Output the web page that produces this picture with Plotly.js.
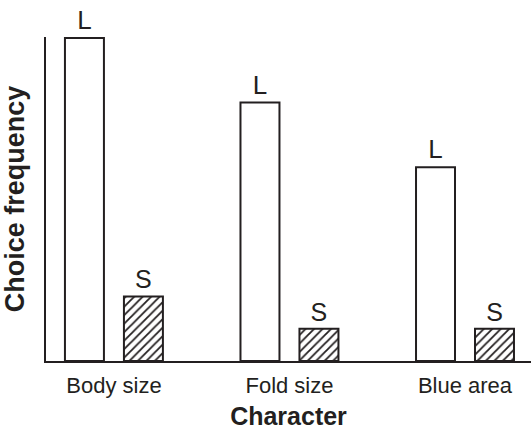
<!DOCTYPE html>
<html>
<head>
<meta charset="utf-8">
<script src="https://cdn.plot.ly/plotly-3.0.1.min.js"></script>
<style>html,body{margin:0;padding:0;background:#fff;}#chart{width:531px;height:430px;}</style>
</head>
<body>
<div id="chart"></div>
<script>
var categories = ["Body size", "Fold size", "Blue area"];
var largeValues = [100, 80, 60];
var smallValues = [20, 10, 10];
var largeLabels = ["L", "L", "L"];
var smallLabels = ["S", "S", "S"];

var ink = "#231f20";
var fontFamily = "Liberation Sans, Arial, Helvetica, sans-serif";

var traces = [
  {
    type: "bar",
    name: "L",
    x: categories,
    y: largeValues,
    text: largeLabels,
    textposition: "outside",
    constraintext: "none",
    cliponaxis: false,
    textfont: {family: fontFamily, size: 26, color: ink},
    marker: {color: "#ffffff", line: {color: ink, width: 2}},
    hoverinfo: "x+y"
  },
  {
    type: "bar",
    name: "S",
    x: categories,
    y: smallValues,
    text: smallLabels,
    textposition: "outside",
    constraintext: "none",
    cliponaxis: false,
    textfont: {family: fontFamily, size: 25, color: ink},
    marker: {
      color: "#ffffff",
      line: {color: ink, width: 2},
      pattern: {shape: "/", fgcolor: ink, bgcolor: "#ffffff", size: 6, solidity: 0.3}
    },
    hoverinfo: "x+y"
  }
];

var layout = {
  width: 531,
  height: 430,
  margin: {l: 46, r: 0, t: 37, b: 69},
  paper_bgcolor: "#ffffff",
  plot_bgcolor: "#ffffff",
  showlegend: false,
  barmode: "group",
  bargap: 0.328,
  bargroupgap: 0.339,
  font: {family: fontFamily, color: ink},
  xaxis: {
    type: "category",
    range: [-0.387, 2.376],
    showline: true,
    linecolor: ink,
    linewidth: 2,
    showgrid: false,
    zeroline: false,
    ticks: "",
    ticklabelstandoff: 4,
    tickfont: {family: fontFamily, size: 22, color: ink},
    title: {text: "Character", font: {family: fontFamily, size: 25, color: ink, weight: "bold"}, standoff: 13},
    automargin: false,
    fixedrange: true
  },
  yaxis: {
    range: [0, 100.3],
    showline: true,
    linecolor: ink,
    linewidth: 2,
    showgrid: false,
    zeroline: false,
    ticks: "",
    showticklabels: false,
    title: {text: "Choice frequency", font: {family: fontFamily, size: 27, color: ink, weight: "bold"}, standoff: 12},
    automargin: false,
    fixedrange: true
  }
};

Plotly.newPlot("chart", traces, layout, {displayModeBar: false, staticPlot: true});
</script>
</body>
</html>
